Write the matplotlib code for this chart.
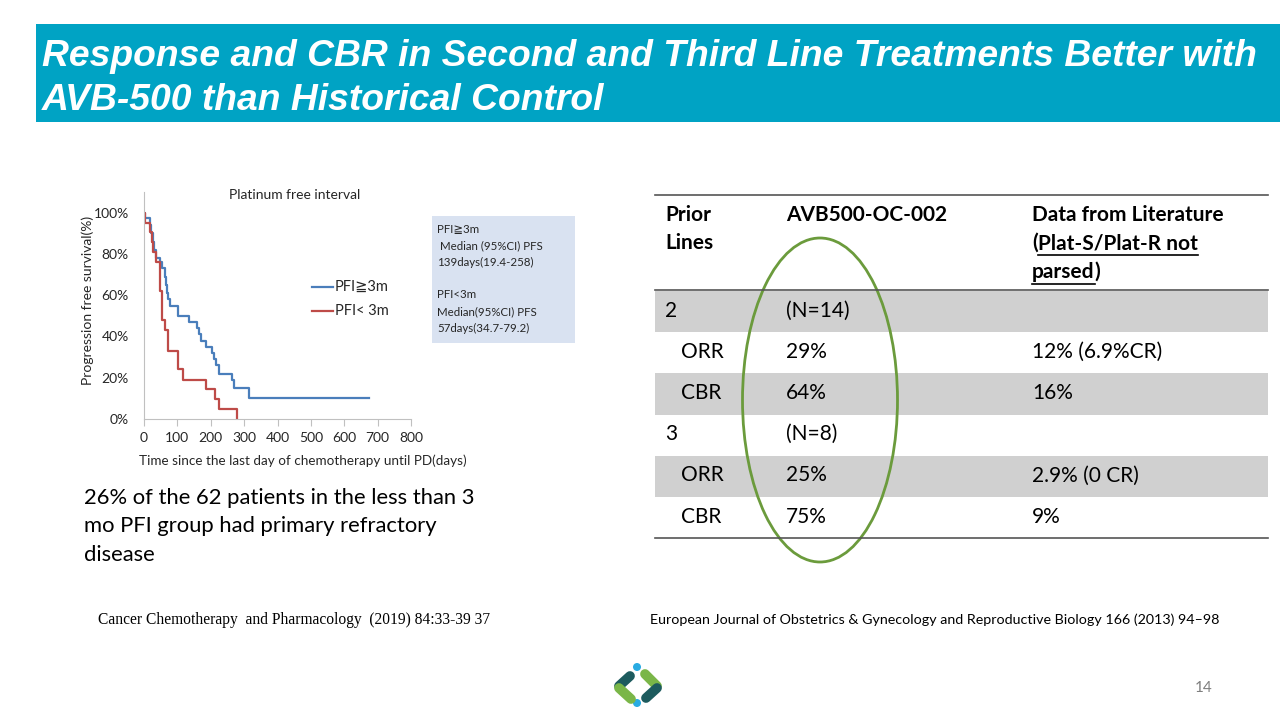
import matplotlib
matplotlib.use('Agg')
from matplotlib import pyplot as plt
from matplotlib import patches

# Kaplan-Meier steps (days, % surviving after the step)
pfi_ge3_days = [0, 3, 18, 22, 26, 30, 36, 48, 55, 62, 66, 70, 73, 78,
                102, 135, 160, 166, 172, 185, 205, 211, 217, 225, 265, 271, 315, 675]
pfi_ge3_surv = [100, 97.5, 94, 90, 86, 82, 78, 76, 73, 69, 65, 61, 58, 55,
                50, 47, 44, 41, 38, 35, 32, 29, 26, 22, 19, 15, 10, 10]
pfi_lt3_days = [0, 3, 18, 24, 28, 35, 47, 55, 64, 73, 102, 118, 187, 212, 225, 280]
pfi_lt3_surv = [100, 95, 90.5, 86, 81, 76, 62, 48, 43, 33, 24, 19, 14.3, 9.5, 4.8, 0]

x_ticks = [0, 100, 200, 300, 400, 500, 600, 700, 800]
y_ticks = [0, 20, 40, 60, 80, 100]

# table contents
header_avb = 'AVB500-OC-002'
prior_col = ['2', 'ORR', 'CBR', '3', 'ORR', 'CBR']
avb_col = ['(N=14)', '29%', '64%', '(N=8)', '25%', '75%']
lit_col = ['', '12% (6.9%CR)', '16%', '', '2.9% (0 CR)', '9%']

SANS = ['Lato', 'DejaVu Sans']

fig = plt.figure(figsize=(12.8, 7.2), dpi=100)
bg = fig.add_axes([0, 0, 1, 1])
bg.set_xlim(0, 1280)
bg.set_ylim(720, 0)
bg.axis('off')

# title banner
bg.add_patch(patches.Rectangle((36, 24), 1244, 98, facecolor='#00a3c4', edgecolor='none'))
bg.text(42, 57, 'Response and CBR in Second and Third Line Treatments Better with',
        fontsize=26.8, color='white', fontweight='bold', fontstyle='italic',
        family='Liberation Sans', va='center')
bg.text(42, 101, 'AVB-500 than Historical Control',
        fontsize=26.8, color='white', fontweight='bold', fontstyle='italic',
        family='Liberation Sans', va='center')

# KM plot
W, H = 1280, 720
ax = fig.add_axes([144 / W, 1 - 419 / H, (411 - 144) / W, (419 - 192) / H])
ax.step(pfi_ge3_days, pfi_ge3_surv, where='post', color='#4a7ebb', lw=1.6)
ax.step(pfi_lt3_days, pfi_lt3_surv, where='post', color='#be4b48', lw=1.6)
ax.set_xlim(0, 800)
ax.set_ylim(0, 110)
ax.set_xticks(x_ticks)
ax.set_yticks(y_ticks)
ax.set_yticklabels([f'{v}%' for v in y_ticks])
for s in ['top', 'right']:
    ax.spines[s].set_visible(False)
for s in ['left', 'bottom']:
    ax.spines[s].set_color('#c0c0c0')
ax.tick_params(axis='x', length=5, color='#c0c0c0', labelsize=10, pad=4)
ax.tick_params(axis='y', length=0, labelsize=10, pad=11)
for lbl in ax.get_xticklabels() + ax.get_yticklabels():
    lbl.set_family(SANS)
    lbl.set_color('#262626')
ax.set_facecolor('none')

bg.text(295, 195, 'Platinum free interval', fontsize=10, family=SANS, ha='center', va='center', color='#262626')
bg.text(88, 300, 'Progression free survival(%)', fontsize=10, family=SANS, rotation=90,
        ha='center', va='center', color='#262626')
bg.text(139, 461, 'Time since the last day of chemotherapy until PD(days)', fontsize=9.7,
        family=SANS, ha='left', va='center', color='#262626')

# legend
bg.plot([312, 333], [287, 287], color='#4a7ebb', lw=1.6)
bg.text(335, 287, 'PFI≧3m', fontsize=10.5, family=SANS, va='center', color='#262626')
bg.plot([312, 333], [311, 311], color='#be4b48', lw=1.6)
bg.text(335, 311, 'PFI< 3m', fontsize=10.5, family=SANS, va='center', color='#262626')

# info box
bg.add_patch(patches.Rectangle((432, 216), 143, 127, facecolor='#d9e2f1', edgecolor='none'))
box_lines = ['PFI≧3m', ' Median (95%CI) PFS', '139days(19.4-258)', '',
             'PFI<3m', 'Median(95%CI) PFS', '57days(34.7-79.2)']
for i, t in enumerate(box_lines):
    bg.text(437, 229 + i * 16.5, t, fontsize=8.3, family=SANS, va='center', color='#262626')

# note text
note = ['26% of the 62 patients in the less than 3', 'mo PFI group had primary refractory', 'disease']
for i, t in enumerate(note):
    bg.text(84, 498 + i * 28.5, t, fontsize=15.8, family=SANS, va='center', color='black')

# table
tx0, tx1 = 655, 1268
col_x = [665, 786, 1032]
row_top = 291
row_h = 41.2
bg.plot([tx0, tx1], [195, 195], color='#555555', lw=1.2)
bg.plot([tx0, tx1], [290, 290], color='#555555', lw=1.2)
tfs = 15
bg.text(col_x[0], 215, 'Prior', fontsize=tfs, family=SANS, fontweight='bold', va='center')
bg.text(col_x[0], 243, 'Lines', fontsize=tfs, family=SANS, fontweight='bold', va='center')
bg.text(col_x[1], 215, header_avb, fontsize=tfs, family=SANS, fontweight='bold', va='center')
bg.text(col_x[2], 215, 'Data from Literature', fontsize=tfs, family=SANS, fontweight='bold', va='center')
t1 = bg.text(col_x[2], 243, '(', fontsize=tfs, family=SANS, fontweight='bold', va='center')
fig.canvas.draw()
r = fig.canvas.get_renderer()
inv = bg.transData.inverted()


def px_right(t):
    bb = t.get_window_extent(r)
    return inv.transform((bb.x1, bb.y0))[0]


xa = px_right(t1)
t2 = bg.text(xa, 243, 'Plat-S/Plat-R not', fontsize=tfs, family=SANS, fontweight='bold', va='center')
xb = px_right(t2)
bg.plot([xa, xb], [255, 255], color='black', lw=1.2)
t3 = bg.text(col_x[2], 272, 'parsed', fontsize=tfs, family=SANS, fontweight='bold', va='center')
xc = px_right(t3)
bg.plot([col_x[2], xc], [284, 284], color='black', lw=1.2)
bg.text(xc, 272, ')', fontsize=tfs, family=SANS, fontweight='bold', va='center')

for i in range(len(prior_col)):
    y0 = row_top + i * row_h
    if i % 2 == 0:
        bg.add_patch(patches.Rectangle((tx0, y0), tx1 - tx0, row_h, facecolor='#d0d0d0', edgecolor='none'))
    yc = y0 + row_h / 2 - 1
    xp = col_x[0] if prior_col[i] in ('2', '3') else 681
    bg.text(xp, yc, prior_col[i], fontsize=tfs, family=SANS, va='center')
    bg.text(col_x[1], yc, avb_col[i], fontsize=tfs, family=SANS, va='center')
    bg.text(col_x[2], yc, lit_col[i], fontsize=tfs, family=SANS, va='center')
bg.plot([tx0, tx1], [row_top + 6 * row_h, row_top + 6 * row_h], color='#555555', lw=1.2)

# green ellipse
bg.add_patch(patches.Ellipse((820, 400), 155, 324, facecolor='none', edgecolor='#6b9b3c', lw=2))

# references
bg.text(98, 620, 'Cancer Chemotherapy  and Pharmacology  (2019) 84:33-39 37', fontsize=11.2,
        family='Liberation Serif', va='center')
bg.text(650, 620, 'European Journal of Obstetrics & Gynecology and Reproductive Biology 166 (2013) 94–98',
        fontsize=10.3, family=SANS, va='center')

# page number
bg.text(1213, 688, '14', fontsize=11, family=SANS, ha='right', va='center', color='#7f7f7f')

# logo
bg.plot([630, 619], [676, 686], color='#1d5b5e', lw=7, solid_capstyle='round')
bg.plot([619, 631], [688, 699], color='#7ab648', lw=7, solid_capstyle='round')
bg.plot([645, 657], [674, 686], color='#7ab648', lw=7, solid_capstyle='round')
bg.plot([657, 646], [688, 698], color='#1d5b5e', lw=7, solid_capstyle='round')
bg.add_patch(patches.Circle((637, 667), 4, facecolor='#29abe2', edgecolor='none'))
bg.add_patch(patches.Circle((637, 703), 4, facecolor='#29abe2', edgecolor='none'))

fig.savefig('out.png', dpi=100)
